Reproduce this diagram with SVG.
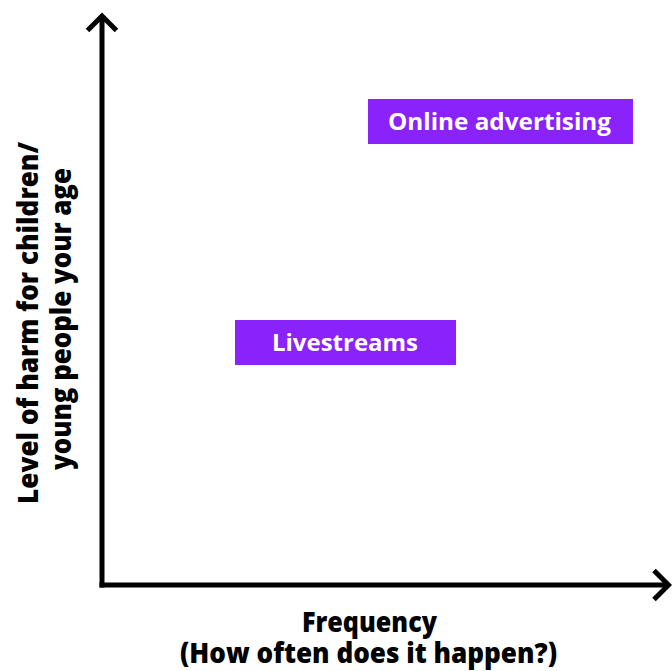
<svg xmlns="http://www.w3.org/2000/svg" width="672" height="671" viewBox="0 0 672 671">
<style>
.axis{fill:none;stroke:#000;stroke-width:5;stroke-linejoin:miter;stroke-linecap:butt}
.box{fill:#8A22FC}
.bl{font-family:"Open Sans","Noto Sans",sans-serif;font-weight:700;font-size:24px;fill:#fff;text-anchor:middle}
.al{font-family:"Open Sans","Noto Sans",sans-serif;font-weight:800;font-size:28px;fill:#000;text-anchor:middle}
</style>
<rect width="672" height="671" fill="#fff"/>
<g id="connectors">
<path class="axis" d="M102,16 V587.5"/>
<path class="axis" d="M99.5,585 H668"/>
<path class="axis" d="M87.5,30.5 L102,16 L116.5,30.5"/>
<path class="axis" d="M654,570.5 L668.5,585 L654,599.5"/>
</g>
<g id="node-online-advertising">
<rect class="box" x="368" y="99" width="265" height="45"/>
<text class="bl" x="499.5" y="129.5" textLength="223" lengthAdjust="spacingAndGlyphs">Online advertising</text>
</g>
<g id="node-livestreams">
<rect class="box" x="235" y="320" width="221" height="45"/>
<text class="bl" x="345" y="351" textLength="146" lengthAdjust="spacingAndGlyphs">Livestreams</text>
</g>
<g id="y-label">
<text class="al" transform="translate(38,323) rotate(-90)" x="0" y="0" textLength="362" lengthAdjust="spacingAndGlyphs">Level of harm for children/</text>
<text class="al" transform="translate(71,319) rotate(-90)" x="0" y="0" textLength="302" lengthAdjust="spacingAndGlyphs">young people your age</text>
</g>
<g id="x-label">
<text class="al" x="369.5" y="632" textLength="135" lengthAdjust="spacingAndGlyphs">Frequency</text>
<text class="al" x="368.5" y="663" textLength="377" lengthAdjust="spacingAndGlyphs">(How often does it happen?)</text>
</g>
</svg>
